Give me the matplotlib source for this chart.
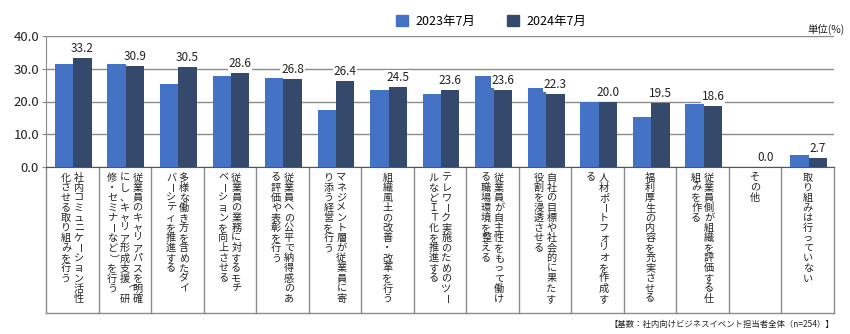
import matplotlib
matplotlib.use('Agg')
import matplotlib.pyplot as plt
import numpy as np
from matplotlib.patches import Patch
from matplotlib.transforms import blended_transform_factory

plt.rcParams['font.family'] = ['Noto Sans CJK JP', 'DejaVu Sans']

# column breaks of the vertical labels are marked with "\n"
categories = [
    "社内コミュニケーション活性\n化させる取り組みを行う",
    "従業員のキャリアパスを明確\nにし、キャリア形成支援（研\n修・セミナーなど）を行う",
    "多様な働き方を含めたダイ\nバーシティを推進する",
    "従業員の業務に対するモチ\nベーションを向上させる",
    "従業員への公平で納得感のあ\nる評価や表彰を行う",
    "マネジメント層が従業員に寄\nり添う経営を行う",
    "組織風土の改善・改革を行う",
    "テレワーク実施のためのツー\nルなどＩＴ化を推進する",
    "従業員が自主性をもって働け\nる職場環境を整える",
    "自社の目標や社会的に果たす\n役割を浸透させる",
    "人材ポートフォリオを作成す\nる",
    "福利厚生の内容を充実させる",
    "従業員側が組織を評価する仕\n組みを作る",
    "その他",
    "取り組みは行っていない",
]
series_names = ["2023年7月", "2024年7月"]
values_2023 = [31.5, 31.6, 25.4, 27.8, 27.2, 17.3, 23.5, 22.3, 27.8, 24.1, 19.8, 15.4, 19.2, 0.0, 3.7]
values_2024 = [33.2, 30.9, 30.5, 28.6, 26.8, 26.4, 24.5, 23.6, 23.6, 22.3, 20.0, 19.5, 18.6, 0.0, 2.7]
yticks = [0, 10, 20, 30, 40]

c23 = '#4472C4'
c24 = '#34496B'
grid_c = '#8c8c8c'

W, H = 850, 334
fig = plt.figure(figsize=(W / 100, H / 100), dpi=100)
ax_l, ax_r, ax_b, ax_t = 46, 834, 167, 36
ax = fig.add_axes([ax_l / W, 1 - ax_b / H, (ax_r - ax_l) / W, (ax_b - ax_t) / H])
ax_w_px = ax_r - ax_l
ax_h_px = ax_b - ax_t

n = len(categories)
x = np.arange(n)
bw = 0.35
ax.bar(x - bw / 2 + 0.02, values_2023, bw, color=c23, zorder=3)
ax.bar(x + bw / 2 + 0.02, values_2024, bw, color=c24, zorder=3)

for xi, v in zip(x, values_2024):
    ax.text(xi + bw / 2 + 0.02, v + 0.9, f"{v:.1f}", ha='center', va='bottom',
            fontsize=8.5, color='#222222', zorder=4,
            bbox=dict(fc='white', ec='none', pad=0.6))

ax.set_xlim(-0.5, n - 0.5)
ax.set_ylim(0, 40)
ax.set_yticks(yticks)
ax.set_yticklabels([f"{t:.1f}" for t in yticks], fontsize=9.5, color='#222222')
ax.set_xticks([])
ax.yaxis.grid(True, color=grid_c, lw=1)
ax.set_axisbelow(True)
for s in ['top', 'right']:
    ax.spines[s].set_visible(False)
ax.spines['left'].set_color(grid_c)
ax.spines['bottom'].set_color('#555555')
ax.tick_params(axis='y', length=3, color=grid_c, pad=2)

# category table under the axis
trans = blended_transform_factory(ax.transData, ax.transAxes)
tbl_bottom = -(313 - ax_b) / ax_h_px
for b in np.arange(-0.5, n, 1.0):
    ax.plot([b, b], [0, tbl_bottom], transform=trans, clip_on=False, color=grid_c, lw=1)
ax.plot([-0.5, n - 0.5], [tbl_bottom, tbl_bottom], transform=trans, clip_on=False, color=grid_c, lw=1)

px_per_unit = ax_w_px / n
col_step = 12.8 / px_per_unit
rot_chars = {'ー': -90, '（': -90, '）': -90, '(': -90, ')': -90}
for i, label in enumerate(categories):
    cols = label.split('\n')
    nc = len(cols)
    for j, col in enumerate(cols):
        cx = i + ((nc - 1) / 2 - j) * col_step
        for k, ch in enumerate(col):
            cy = -(10.5 + k * 10.1) / ax_h_px
            ax.text(cx, cy, ch, transform=trans, ha='center', va='center',
                    fontsize=7.3, color='#222222', rotation=rot_chars.get(ch, 0),
                    rotation_mode='anchor', clip_on=False)

handles = [Patch(color=c23), Patch(color=c24)]
fig.legend(handles, series_names, loc='center', bbox_to_anchor=(0.578, 0.937), ncol=2,
           frameon=False, fontsize=9, handlelength=1.0, handleheight=1.0,
           columnspacing=2.5, handletextpad=0.6)
fig.text(0.994, 1 - 29 / H, "単位(%)", ha='right', va='center', fontsize=7.5, color='#222222')
fig.text(0.981, 1 - 324 / H, "【基数：社内向けビジネスイベント担当者全体（n=254）】", ha='right',
         va='center', fontsize=6, color='#222222')

fig.savefig('out.png', dpi=100)
